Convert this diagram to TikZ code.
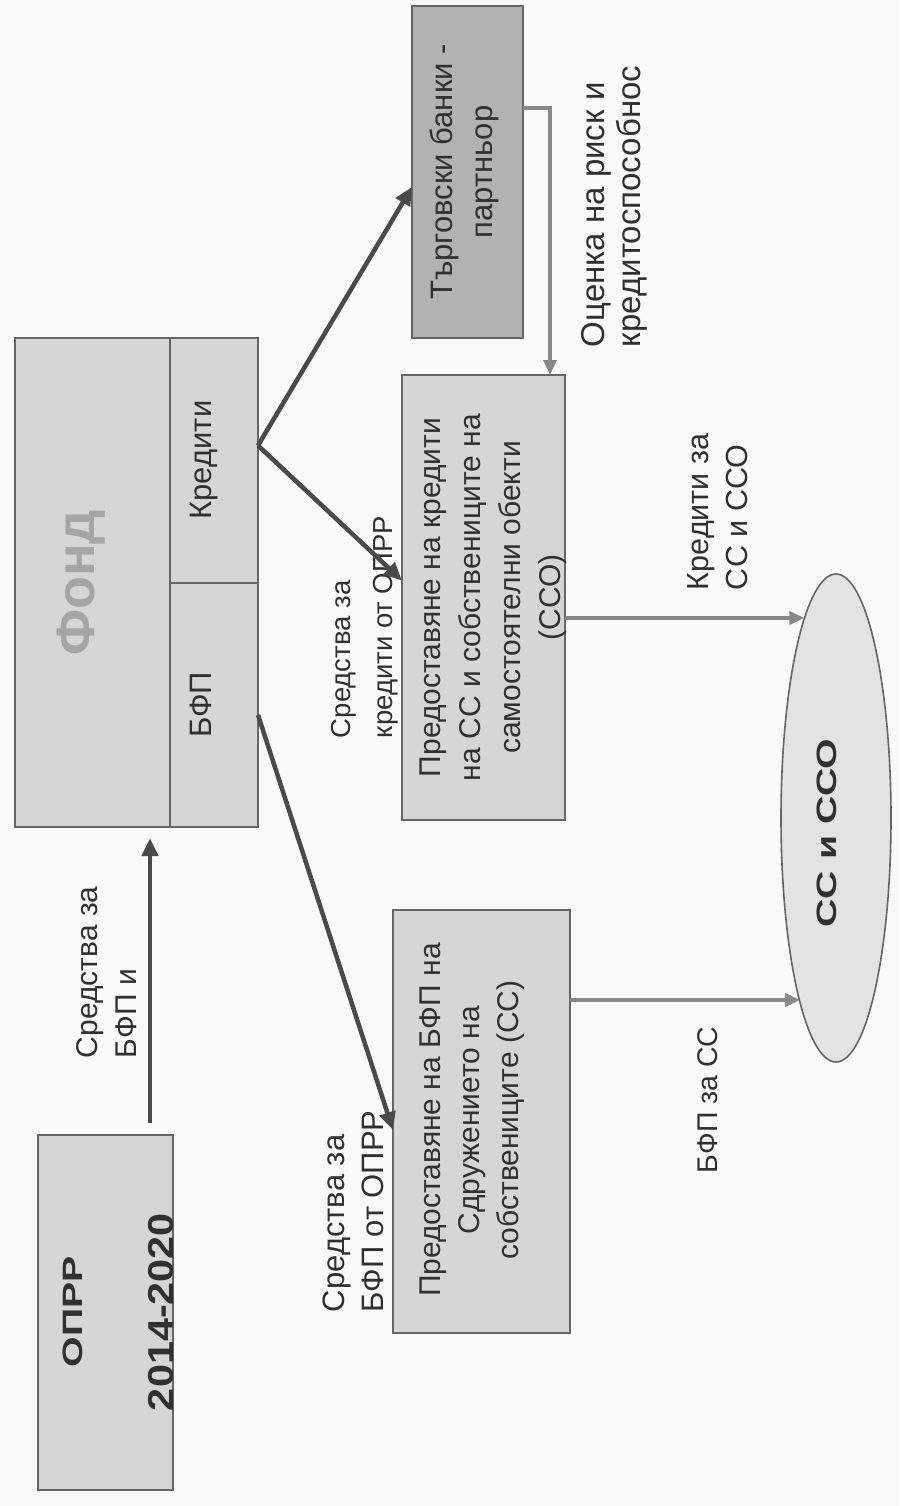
\documentclass[tikz,border=0pt]{standalone}
\usepackage{fontspec}
\setmainfont{Liberation Sans}
\usepackage{graphicx}
\usetikzlibrary{arrows.meta,calc,shapes.geometric}

\definecolor{txtc}{HTML}{303030}
\definecolor{boxfill}{HTML}{D6D6D6}
\definecolor{bankfill}{HTML}{B2B2B2}
\definecolor{ellfill}{HTML}{E3E3E3}
\definecolor{borderc}{HTML}{666666}
\definecolor{darkarrow}{HTML}{4A4A4A}
\definecolor{lightarrow}{HTML}{888888}
\definecolor{fondtxt}{HTML}{A6A6A6}
\definecolor{bgc}{HTML}{FAFAFA}

\newcommand\rtab[2][c]{\rotatebox{90}{\begin{tabular}{@{}#1@{}}#2\end{tabular}}}
\newcommand\fsz[2]{\fontsize{#1}{#2}\selectfont}

\begin{document}
\begin{tikzpicture}[x=1pt,y=1pt,
  box/.style={draw=borderc,line width=1.6pt,fill=boxfill,inner sep=0pt,outer sep=0pt},
  txt/.style={inner sep=0pt,outer sep=0pt,text=txtc},
  dark/.style={draw=darkarrow,line width=4.5pt,-{Triangle[length=18pt,width=16pt]}},
  light/.style={draw=lightarrow,line width=3.6pt,-{Triangle[length=15pt,width=13pt]}}]

\fill[bgc] (0,0) rectangle (899,-1506);
\useasboundingbox (0,0) rectangle (899,-1506);

% boxes
\node[box,minimum width=135pt,minimum height=355pt] (oprr) at (105.5,-1312.5) {};
\node[box,minimum width=155pt,minimum height=489pt] (fond) at (92.5,-582.5) {};
\node[box,minimum width=88pt,minimum height=245pt] (kred) at (214,-460.5) {};
\node[box,minimum width=88pt,minimum height=244pt] (bfp) at (214,-705) {};
\node[box,fill=bankfill,minimum width=111pt,minimum height=332pt] (tb) at (467.5,-172) {};
\node[box,minimum width=163pt,minimum height=445pt] (pk) at (483.5,-597.5) {};
\node[box,minimum width=177pt,minimum height=423pt] (pb) at (481.5,-1121.5) {};
\node[ellipse,draw=borderc,line width=1.6pt,fill=ellfill,inner sep=0pt,outer sep=0pt,
      minimum width=110pt,minimum height=488pt] (ell) at (836,-818) {};

% texts in boxes
\begin{scope}
  \clip ($(oprr.south west)+(1,1)$) rectangle ($(oprr.north east)-(1,1)$);
  \node[txt,font=\bfseries\fsz{28}{34}] (oprrt) at (73,-1312) {\rotatebox{90}{\scalebox{1.4}[1]{ОПРР}}};
  \node[txt,font=\bfseries\fsz{36}{40}] (oprry) at (161,-1312) {\rotatebox{90}{\scalebox{1.15}[1]{2014-2020}}};
\end{scope}
\node[txt,text=fondtxt,font=\bfseries\fsz{54}{60}] (fondt) at (81,-583) {\rotatebox{90}{Фонд}};
\node[txt,font=\fsz{31}{40}] (kredt) at (203.1,-460) {\rtab{Кредити}};
\node[txt,font=\fsz{31}{40}] (bfpt) at (203.1,-705) {\rtab{БФП}};
\node[txt,font=\fsz{31}{40}] (tbt) at (464.1,-172) {\rtab{Търговски банки -\\партньор}};
\node[txt,font=\fsz{30}{40}] (pkt) at (492.7,-597.5) {\rtab{Предоставяне на кредити\\на СС и собствениците на\\самостоятелни обекти\\(ССО)}};
\node[txt,font=\fsz{30}{39}] (pbt) at (471.9,-1120) {\rtab{Предоставяне на БФП на\\Сдружението на\\собствениците (СС)}};
\node[txt,font=\bfseries\fsz{28}{34}] (ellt) at (827,-833) {\rotatebox{90}{\scalebox{1.4}[1]{СС и ССО}}};

% connector labels
\node[txt,anchor=south,font=\fsz{30}{39}] (l1) at (109.4,-1058) {\rtab[l]{Средства за\\БФП и}};
\node[txt,anchor=south,font=\fsz{27.5}{42}] (l2) at (363.4,-738) {\rtab[l]{Средства за\\кредити от ОПРР}};
\node[txt,anchor=south,font=\fsz{31}{39}] (l3) at (355.8,-1312) {\rtab[l]{Средства за\\БФП от ОПРР}};
\node[txt,anchor=south,font=\fsz{33}{36}] (l4) at (615.6,-347) {\rtab[l]{Оценка на риск и\\кредитоспособнос}};
\node[txt,anchor=south,font=\fsz{30.5}{39}] (l5) at (720.6,-590) {\rtab[l]{Кредити за\\СС и ССО}};
\node[txt,anchor=south,font=\fsz{28.5}{37}] (l6) at (709.8,-1173) {\rtab[l]{БФП за СС}};

% connectors
\coordinate (ax) at (150,0);
\draw[dark,shorten <=12pt,shorten >=11pt] (oprr.north -| ax) -- (fond.south -| ax);
\coordinate (ks) at ($(kred.east)+(0,15)$);
\draw[dark] (ks) -- ($(tb.west)+(0,-15)$);
\draw[dark] (ks) -- ($(pk.west)+(0,17)$);
\draw[dark] ($(bfp.east)+(0,-10)$) -- ($(pb.west)+(0,-8.5)$);
\draw[light] ($(tb.east)+(0,64)$) -| ($(pk.north)+(66.5,0)$);
\coordinate (s1) at ($(pk.east)+(0,-20.5)$);
\draw[light] (s1) -- (s1 -| ell.99);
\coordinate (s2) at ($(pb.east)+(0,121.5)$);
\draw[light] (s2) -- (s2 -| ell.259);
\end{tikzpicture}
\end{document}
